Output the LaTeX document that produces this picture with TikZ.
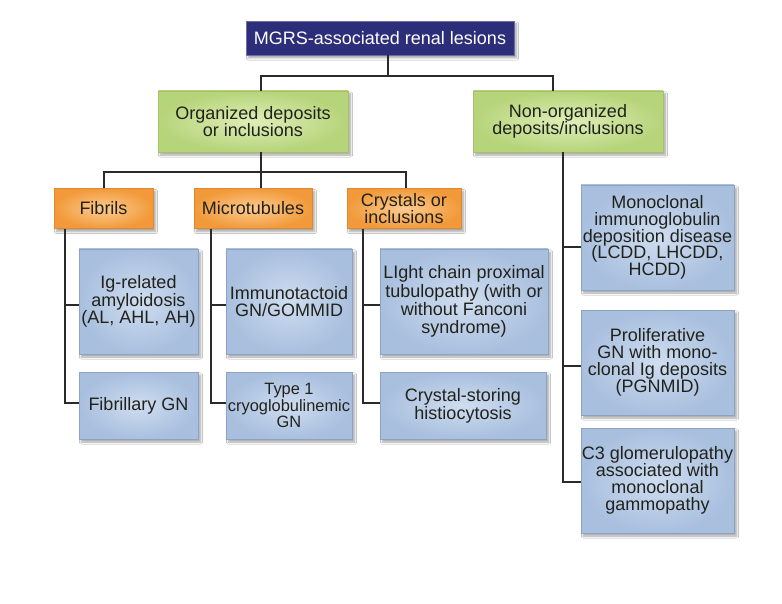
\documentclass[tikz,border=0pt]{standalone}
\usepackage{fontspec}
\setmainfont{Liberation Sans}
\usetikzlibrary{shadows.blur}
\definecolor{navy}{HTML}{2C2E7A}
\definecolor{navyb}{HTML}{6A6DA8}
\definecolor{greenin}{HTML}{DFEEB8}
\definecolor{greenout}{HTML}{B6D47A}
\definecolor{greenb}{HTML}{A3C06A}
\definecolor{orangein}{HTML}{FCCB90}
\definecolor{orangeout}{HTML}{F29A3A}
\definecolor{orangeb}{HTML}{DC8A32}
\definecolor{bluein}{HTML}{CFDDF0}
\definecolor{blueout}{HTML}{A8BFDE}
\definecolor{blueb}{HTML}{8CA2C6}
\definecolor{darktext}{HTML}{22221C}
\definecolor{linkc}{HTML}{2A2A2A}
\begin{document}
\begin{tikzpicture}[x=1pt,y=-1pt,
  box/.style={rectangle, align=center, inner sep=0pt, text=darktext,
    font=\fontsize{18}{17.8}\selectfont,
    blur shadow={shadow xshift=2.5pt, shadow yshift=-3pt, shadow blur steps=6, shadow opacity=35}},
  topbox/.style={box, draw=navyb, fill=navy, text=white, minimum width=268pt, minimum height=34pt},
  greenbox/.style={box, draw=greenb, inner color=greenin, outer color=greenout, minimum width=190pt, minimum height=61pt, font=\fontsize{18}{17.5}\selectfont},
  orangebox/.style={box, draw=orangeb, inner color=orangein, outer color=orangeout, minimum height=40pt, font=\fontsize{18}{16.8}\selectfont},
  bluebox/.style={box, draw=blueb, inner color=bluein, outer color=blueout},
  tallbox/.style={bluebox, minimum height=105pt},
  shortbox/.style={bluebox, minimum height=67pt},
  rightbox/.style={tallbox, minimum width=153pt, font=\fontsize{18}{16.8}\selectfont},
  link/.style={draw=linkc, line width=1.3pt}
]
\useasboundingbox[fill=white] (0,0) rectangle (782,604);

% level 0
\node[topbox] (top) at (380,38) {MGRS-associated renal lesions};
% level 1
\node[greenbox] (og) at (253,121.5) {Organized deposits\\or inclusions};
\node[greenbox] (ng) at (568,121.5) {Non-organized\\deposits/inclusions};
% level 2
\node[orangebox, minimum width=99pt] (fib) at (103.5,208.5) {Fibrils};
\node[orangebox, minimum width=118pt] (mic) at (253,208.5) {Microtubules};
\node[orangebox, minimum width=114pt] (cry) at (404,208.5) {Crystals or\\inclusions};
% level 3
\node[tallbox, minimum width=119pt] (ig) at (138.5,301.5) {Ig-related\\amyloidosis\\(AL, AHL, AH)};
\node[shortbox, minimum width=119pt] (fgn) at (138.5,405.5) {Fibrillary GN};
\node[tallbox, minimum width=126pt] (imm) at (289,301.5) {Immunotactoid\\GN/GOMMID};
\node[shortbox, minimum width=126pt, font=\fontsize{16.4}{16.8}\selectfont] (typ) at (289,405.5) {Type 1\\cryoglobulinemic\\GN};
\node[tallbox, minimum width=168pt, font=\fontsize{18}{18.3}\selectfont] (lc) at (464,301.5) {LIght chain proximal\\tubulopathy (with or\\without Fanconi\\syndrome)};
\node[shortbox, minimum width=166pt] (cs) at (463,405.5) {Crystal-storing\\histiocytosis};
\node[rightbox] (mono) at (657.5,237.5) {Monoclonal\\immunoglobulin\\deposition disease\\(LCDD, LHCDD,\\HCDD)};
\node[rightbox] (pro) at (657.5,362.5) {Proliferative\\GN with mono-\\clonal Ig deposits\\(PGNMID)};
\node[rightbox] (c3) at (657.5,480.5) {C3 glomerulopathy\\associated with\\monoclonal\\gammopathy};

% connectors level 0 -> 1
\coordinate (j0) at (388,76);
\coordinate (jL) at (261,76);
\coordinate (jR) at (553,76);
\draw[link] (top.south -| j0) -- (j0);
\draw[link] (og.north -| jL) -- (jL) -- (jR) -- (ng.north -| jR);

% connectors level 1 -> 2
\coordinate (k0) at (261,172);
\coordinate (kL) at (104,172);
\coordinate (kR) at (406,172);
\draw[link] (og.south -| k0) -- (mic.north -| k0);
\draw[link] (fib.north -| kL) -- (kL) -- (kR) -- (cry.north -| kR);

% connectors level 2 -> 3
\coordinate (v1) at (65,0);
\coordinate (v2) at (211,0);
\coordinate (v3) at (363,0);
\coordinate (v4) at (563,0);
\coordinate (tig) at ([yshift=-3.5pt]ig.west);
\coordinate (timm) at ([yshift=-3.5pt]imm.west);
\coordinate (tlc) at ([yshift=-3.5pt]lc.west);
\coordinate (tmono) at ([yshift=-9.5pt]mono.west);
\coordinate (tpro) at ([yshift=-3.5pt]pro.west);
\coordinate (tc3) at ([yshift=-1.5pt]c3.west);
\coordinate (tfgn) at ([yshift=2.5pt]fgn.west);
\coordinate (ttyp) at ([yshift=2.5pt]typ.west);
\coordinate (tcs) at ([yshift=2.5pt]cs.west);

\draw[link] (fib.south -| v1) |- (tfgn);
\draw[link] (v1 |- tig) -- (tig);
\draw[link] (mic.south -| v2) |- (ttyp);
\draw[link] (v2 |- timm) -- (timm);
\draw[link] (cry.south -| v3) |- (tcs);
\draw[link] (v3 |- tlc) -- (tlc);
\draw[link] (ng.south -| v4) |- (tc3);
\draw[link] (v4 |- tmono) -- (tmono);
\draw[link] (v4 |- tpro) -- (tpro);
\end{tikzpicture}
\end{document}
